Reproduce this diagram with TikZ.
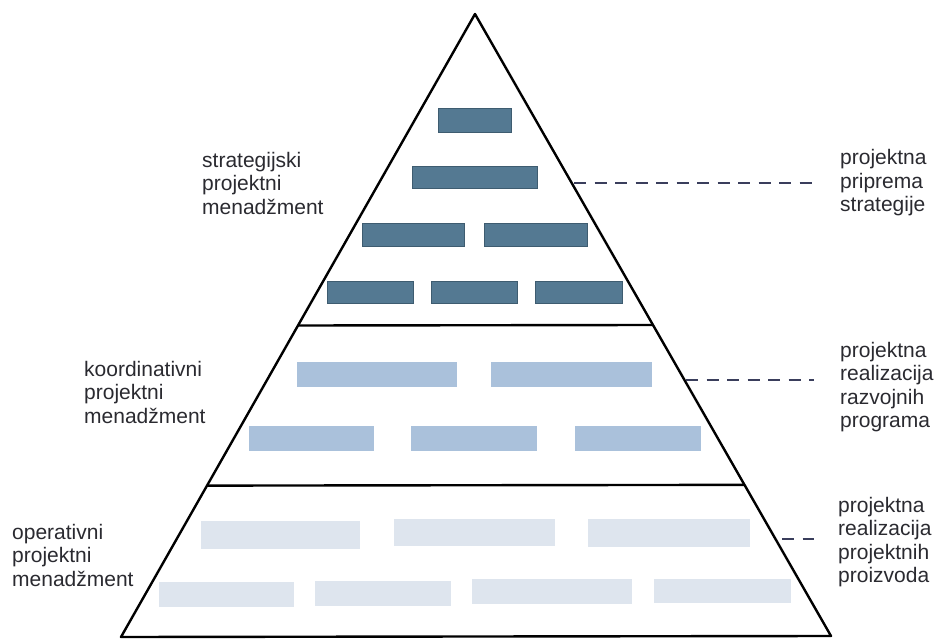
\documentclass[tikz,border=0pt]{standalone}
\usepackage{fontspec}
\setmainfont{Liberation Sans}
\usepackage{xcolor}
\usetikzlibrary{calc}

\definecolor{boxDark}{RGB}{84,121,146}
\definecolor{boxDarkLine}{RGB}{62,92,112}
\definecolor{boxMid}{RGB}{170,193,219}
\definecolor{boxLight}{RGB}{222,229,238}
\definecolor{labelInk}{RGB}{42,42,48}
\definecolor{leaderInk}{RGB}{58,62,92}

\begin{document}
\begin{tikzpicture}[x=1pt,y=1pt,yscale=-1,xscale=1,
    edge/.style={line width=2.4pt, line join=round, black},
    leader/.style={line width=1.4pt, leaderInk, dash pattern={on 12pt off 8.5pt}},
    tierTop/.style={fill=boxDark, draw=boxDarkLine, line width=0.8pt},
    tierMid/.style={fill=boxMid},
    tierLow/.style={fill=boxLight},
    tierLabel/.style={anchor=west, inner sep=0pt, align=left, text=labelInk,
        font=\fontsize{21}{23.5}\selectfont}]
    %set diagram to the size of the scan
    \useasboundingbox (0,0) rectangle (943,639);

    %Shape: Triangle
    \coordinate (apex) at (475,14);
    \coordinate (baseL) at (121,637);
    \coordinate (baseR) at (831,636);
    \draw [edge] (baseL) -- (apex) -- (baseR) -- cycle;
    %Straight Lines - tier borders
    \draw [edge] ($(baseL)!0.5!(apex)$) -- ($(baseR)!0.5!(apex)$);
    \draw [edge] ($(baseL)!0.243!(apex)$) -- ($(baseR)!0.243!(apex)$);

    %Shape: Rectangle - strategic tier
    \fill [tierTop] (438,108) rectangle (511,132);
    \fill [tierTop] (412,166) rectangle (537,188);
    \fill [tierTop] (362,223) rectangle (464,246);
    \fill [tierTop] (484,223) rectangle (587,246);
    \fill [tierTop] (327,281) rectangle (413,303);
    \fill [tierTop] (431,281) rectangle (517,303);
    \fill [tierTop] (535,281) rectangle (622,303);

    %Shape: Rectangle - coordination tier
    \fill [tierMid] (297,362) rectangle (457,387);
    \fill [tierMid] (491,362) rectangle (652,387);
    \fill [tierMid] (249,426) rectangle (374,451);
    \fill [tierMid] (411,426) rectangle (537,451);
    \fill [tierMid] (575,426) rectangle (701,451);

    %Shape: Rectangle - operative tier
    \fill [tierLow] (201,521) rectangle (360,549);
    \fill [tierLow] (394,519) rectangle (555,546);
    \fill [tierLow] (588,519) rectangle (750,547);
    \fill [tierLow] (159,582) rectangle (294,607);
    \fill [tierLow] (315,581) rectangle (451,606);
    \fill [tierLow] (472,579) rectangle (632,604);
    \fill [tierLow] (654,579) rectangle (791,603);

    % Text Node
    \node (lblStrat) at (202,183) [tierLabel] {strategijski\\projektni\\menadžment};
    % Text Node
    \node (lblKoord) at (84,392) [tierLabel] {koordinativni\\projektni\\menadžment};
    % Text Node
    \node (lblOper) at (12,555) [tierLabel] {operativni\\projektni\\menadžment};
    % Text Node
    \node (lblPriprema) at (840,183) [tierLabel] {projektna\\priprema\\strategije};
    % Text Node
    \node (lblRazvoj) at (840,387) [tierLabel] {projektna\\realizacija\\razvojnih\\programa};
    % Text Node
    \node (lblProizvod) at (838,542) [tierLabel] {projektna\\realizacija\\projektnih\\proizvoda};

    %Straight Lines - leaders
    \coordinate (edgePriprema) at (574,183);
    \coordinate (edgeRazvoj) at (686,380);
    \coordinate (edgeProizvod) at (782,539);
    \draw [leader, shorten >=26pt] (edgePriprema) -- (edgePriprema -| lblPriprema.west);
    \draw [leader, shorten >=26pt] (edgeRazvoj) -- (edgeRazvoj -| lblRazvoj.west);
    \draw [leader, shorten >=24pt] (edgeProizvod) -- (edgeProizvod -| lblProizvod.west);

\end{tikzpicture}
\end{document}
